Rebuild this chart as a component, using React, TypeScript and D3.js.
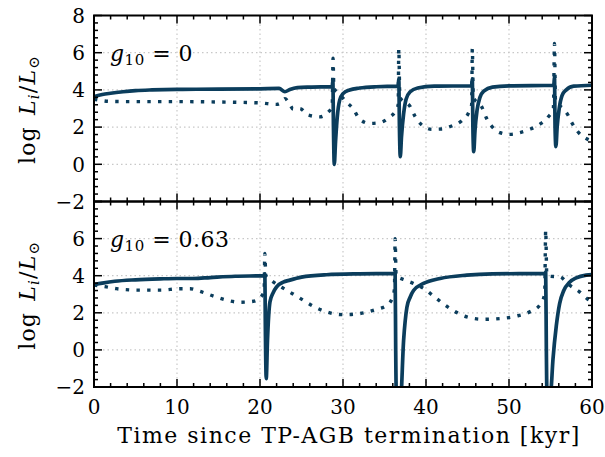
import React from "react";
import * as d3 from "d3";

type P = [number, number];

const xTicks = [0, 10, 20, 30, 40, 50, 60];
const yTicks = [-2, 0, 2, 4, 6, 8];
const panelLabels = ["0", "0.63"];

const topSolid: P[] = [
  [0, 3.63], [1, 3.75], [2, 3.82], [3.5, 3.9], [5, 3.96], [7, 4.0], [10, 4.03], [15, 4.04], [20, 4.06],
  [22.3, 4.08], [23, 3.9], [23.6, 4.02], [24.5, 4.12], [26, 4.15], [28.7, 4.17], [28.78, 4.5], [28.85, 2.0],
  [28.95, 0.0], [29.1, 1.2], [29.3, 2.5], [29.6, 3.45], [30.0, 3.8], [30.8, 4.0], [32, 4.1], [34, 4.17],
  [36.65, 4.2], [36.72, 4.6], [36.8, 2.0], [36.9, 0.41], [37.05, 1.5], [37.3, 2.7], [37.6, 3.5], [38.1, 3.9],
  [39, 4.1], [41, 4.2], [45.5, 4.22], [45.58, 4.6], [45.65, 2.0], [45.75, 0.68], [45.9, 1.8], [46.15, 2.9],
  [46.5, 3.6], [47, 3.95], [48, 4.15], [50, 4.22], [55.4, 4.25], [55.48, 4.7], [55.55, 2.0], [55.65, 0.95],
  [55.8, 2.0], [56.05, 3.0], [56.4, 3.7], [56.9, 4.0], [57.8, 4.2], [60, 4.25],
];

const topDotted: P[] = [
  [0, 3.5], [1, 3.42], [2, 3.38], [5, 3.37], [10, 3.37], [15, 3.35], [20, 3.3], [22, 3.22], [22.5, 3.3],
  [23, 3.53], [23.5, 3.3], [24, 2.97], [24.8, 3.0], [25.8, 2.65], [27.2, 2.55], [28.2, 2.8], [28.7, 3.1],
  [28.8, 5.7], [28.9, 4.1], [29.6, 3.76], [30.4, 3.35], [31.2, 3.0], [32, 2.43], [33.2, 2.2], [34.4, 2.24],
  [35.6, 2.53], [36.4, 2.92], [36.65, 3.2], [36.72, 6.2], [36.85, 3.6], [38.1, 3.1], [38.7, 2.56], [39.5, 2.11],
  [40.7, 1.88], [41.9, 1.9], [43.1, 2.06], [44.3, 2.34], [45.1, 2.74], [45.5, 3.2], [45.58, 6.2], [45.7, 3.6],
  [46.7, 3.1], [47.3, 2.47], [47.9, 2.06], [48.9, 1.7], [50.1, 1.61], [51.3, 1.7], [52.5, 1.88], [53.7, 2.15],
  [54.7, 2.53], [55.35, 3.0], [55.48, 6.5], [55.6, 3.4], [56.5, 3.0], [57.1, 2.65], [57.5, 2.29], [58.3, 1.75],
  [59.5, 1.34], [60, 1.25],
];

const bottomSolid: P[] = [
  [0, 3.52], [1, 3.6], [2.5, 3.7], [5, 3.78], [8, 3.83], [10, 3.85], [12, 3.85], [14, 3.9], [17, 3.97],
  [20.5, 4.0], [20.58, 4.1], [20.65, 1.0], [20.75, -1.55], [20.9, 0.5], [21.2, 2.59], [21.6, 3.1], [22.0, 3.4],
  [22.8, 3.65], [23.6, 3.76], [25, 3.92], [28, 4.05], [32, 4.1], [36.2, 4.12], [36.28, 4.2], [36.35, 0],
  [36.45, -3], [36.9, -3], [37.3, 0.5], [37.7, 2.3], [38.1, 2.85], [38.5, 3.2], [39.7, 3.58], [41.7, 3.85],
  [44.9, 4.03], [48, 4.1], [54.35, 4.12], [54.42, 4.2], [54.5, 0], [54.6, -3], [55.0, -2.5], [55.3, -0.5],
  [55.7, 1.3], [56.1, 2.5], [56.6, 3.2], [57.3, 3.65], [58.1, 3.88], [59.3, 4.03], [60, 4.06],
];

const bottomDotted: P[] = [
  [0, 3.5], [1.5, 3.4], [2.7, 3.3], [5.5, 3.22], [8, 3.22], [10.4, 3.3], [11.6, 3.3], [12.8, 3.15], [14.4, 2.9],
  [16, 2.68], [17.6, 2.57], [19.2, 2.62], [20.2, 2.9], [20.5, 3.2], [20.58, 5.2], [20.7, 4.0], [21.2, 3.8],
  [23.2, 3.22], [24.4, 2.9], [25.2, 2.68], [26.4, 2.36], [28, 2.05], [30, 1.9], [32, 1.96], [34, 2.18],
  [35.3, 2.41], [36, 2.86], [36.2, 3.3], [36.28, 6.0], [36.4, 4.0], [37.5, 3.76], [38.5, 3.58], [39.9, 3.26],
  [40.9, 2.9], [42.9, 2.23], [44.9, 1.78], [46.9, 1.65], [48.9, 1.69], [50.9, 1.82], [52.5, 2.05], [53.7, 2.41],
  [54.3, 3.0], [54.42, 6.45], [54.55, 4.1], [54.9, 3.97], [56.1, 3.94], [57.3, 3.49], [58.5, 3.13], [59.4, 2.77],
  [60, 2.6],
];

const COLOR = "#0b3d5c";
const FONT = "'DejaVu Serif', 'Liberation Serif', serif";
const FS = 20;
const LFS = 22;
const SUB = 15;

const L = 94, R = 592;
const panels = [
  { top: 15.5, bottom: 201.5, solid: topSolid, dotted: topDotted, label: panelLabels[0], showTop: true },
  { top: 201.5, bottom: 387, solid: bottomSolid, dotted: bottomDotted, label: panelLabels[1], showTop: false },
];

const fmt = (v: number) => (v < 0 ? "\u2212" + Math.abs(v) : String(v));

export default function App() {
  const x = d3.scaleLinear().domain([0, 60]).range([L, R]);
  const minorX = d3.range(0, 60.001, 2);
  const minorY = d3.range(-2, 8.001, 0.4);

  return (
    <svg width={605} height={457} style={{ position: "absolute", left: 0, top: 0, background: "#fff" }}>
      <defs>
        {panels.map((p, i) => (
          <clipPath id={`clip${i}`} key={i}>
            <rect x={L} y={p.top} width={R - L} height={p.bottom - p.top} />
          </clipPath>
        ))}
      </defs>
      {panels.map((p, i) => {
        const y = d3.scaleLinear().domain([-2, 8]).range([p.bottom, p.top]);
        const line = d3
          .line<P>()
          .x((d) => x(d[0]))
          .y((d) => y(d[1]))
          .curve(d3.curveMonotoneX);
        return (
          <g key={i}>
            {xTicks.slice(1, -1).map((t) => (
              <line key={"gx" + t} x1={x(t)} x2={x(t)} y1={p.top} y2={p.bottom} stroke="#c8c8c8" strokeWidth={1.2} strokeDasharray="1.5,3" />
            ))}
            {yTicks.slice(1, -1).map((t) => (
              <line key={"gy" + t} x1={L} x2={R} y1={y(t)} y2={y(t)} stroke="#c8c8c8" strokeWidth={1.2} strokeDasharray="1.5,3" />
            ))}
            <g clipPath={`url(#clip${i})`}>
              <path d={line(p.dotted) || ""} fill="none" stroke={COLOR} strokeWidth={3.4} strokeDasharray="3.4,7.3" strokeLinejoin="round" />
              <path d={line(p.solid) || ""} fill="none" stroke={COLOR} strokeWidth={3.7} strokeLinejoin="round" />
            </g>
            {minorX.map((t) => {
              const major = Math.abs(t % 10) < 1e-6;
              const len = major ? 8 : 4;
              return (
                <g key={"tx" + t}>
                  <line x1={x(t)} x2={x(t)} y1={p.bottom} y2={p.bottom - len} stroke="#000" strokeWidth={1.5} />
                  <line x1={x(t)} x2={x(t)} y1={p.top} y2={p.top + len} stroke="#000" strokeWidth={1.5} />
                </g>
              );
            })}
            {minorY.map((t) => {
              const major = Math.abs(Math.round(t) - t) < 1e-6 && Math.round(t) % 2 === 0;
              const len = major ? 8 : 4;
              return (
                <g key={"ty" + t.toFixed(1)}>
                  <line x1={L} x2={L + len} y1={y(t)} y2={y(t)} stroke="#000" strokeWidth={1.5} />
                  <line x1={R} x2={R - len} y1={y(t)} y2={y(t)} stroke="#000" strokeWidth={1.5} />
                </g>
              );
            })}
            <rect x={L} y={p.top} width={R - L} height={p.bottom - p.top} fill="none" stroke="#000" strokeWidth={2} />
            {yTicks
              .filter((t) => p.showTop || t !== 8)
              .map((t) => (
                <text key={"yl" + t} x={L - 9} y={y(t)} dy="0.36em" textAnchor="end" fontFamily={FONT} fontSize={FS}>
                  {fmt(t)}
                </text>
              ))}
            <text x={110} y={p.top + 45.5} fontFamily={FONT} fontSize={LFS} letterSpacing={0.5}>
              <tspan fontStyle="italic">g</tspan>
              <tspan fontSize={SUB} dy={4}>10</tspan>
              <tspan dy={-4}>{" = " + p.label}</tspan>
            </text>
            <text
              transform={`translate(35,${(p.top + p.bottom) / 2 + 1}) rotate(-90)`}
              textAnchor="middle"
              fontFamily={FONT}
              fontSize={LFS}
              letterSpacing={1.2}
            >
              <tspan>{"log\u2009\u2009"}</tspan>
              <tspan fontStyle="italic">L</tspan>
              <tspan fontStyle="italic" fontSize={SUB} dy={4}>i</tspan>
              <tspan dy={-4}>/</tspan>
              <tspan fontStyle="italic">L</tspan>
              <tspan fontSize={SUB} dy={4}>{"\u2299"}</tspan>
            </text>
          </g>
        );
      })}
      {xTicks.map((t) => (
        <text key={"xl" + t} x={x(t)} y={414} textAnchor="middle" fontFamily={FONT} fontSize={FS}>
          {t}
        </text>
      ))}
      <text x={(L + R) / 2 + 6} y={443} textAnchor="middle" fontFamily={FONT} fontSize={LFS} letterSpacing={1.5}>
        Time since TP-AGB termination [kyr]
      </text>
    </svg>
  );
}
